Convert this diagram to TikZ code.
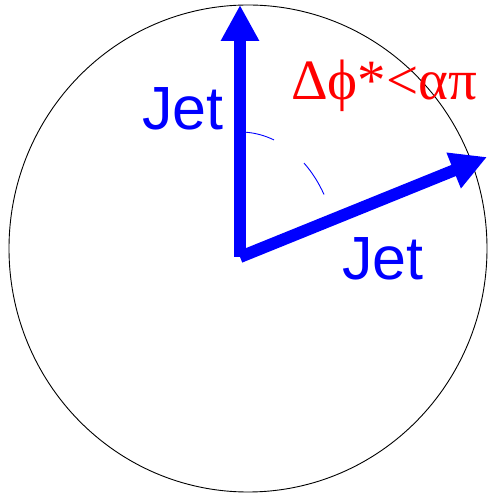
\documentclass[tikz,border=0pt]{standalone}
\usepackage{fontspec}
\setmainfont{Liberation Serif}
\newfontfamily\jetfont{Liberation Sans}
\usetikzlibrary{arrows.meta}
\begin{document}
\begin{tikzpicture}[x=1pt,y=1pt,
  jetarrow/.style={draw=blue,line width=12pt,-{Triangle[width=36pt,length=36pt]}},
  anglearc/.style={draw=blue,line width=0.9pt},
  jetlabel/.style={text=blue,inner sep=0pt,font=\jetfont\fontsize{61}{70}\selectfont},
  cutlabel/.style={text=red,inner sep=0pt,font=\fontsize{57}{66}\selectfont}]
\useasboundingbox (0,0) rectangle (488,495);
\coordinate (O) at (240,238);
\coordinate (T1) at (240,490);
\coordinate (T2) at (487,338);
\draw[line width=0.9pt] (248,246.5) ellipse [x radius=239, y radius=243.5];
\draw[anglearc] (O) ++(87:97 and 125) arc[start angle=87, end angle=69.5, x radius=97, y radius=125];
\draw[anglearc] (O) ++(48.7:97 and 125) arc[start angle=48.7, end angle=30, x radius=97, y radius=125];
\draw[jetarrow] (O) -- (T1);
\draw[jetarrow] (O) -- (T2);
\node[jetlabel,anchor=base east] (j1) at (224,365) {Jet};
\node[jetlabel,anchor=base east] (j2) at (424,215) {Jet};
\node[cutlabel,anchor=base west] (cut) at (291,395) {Δϕ*<απ};
\end{tikzpicture}
\end{document}
